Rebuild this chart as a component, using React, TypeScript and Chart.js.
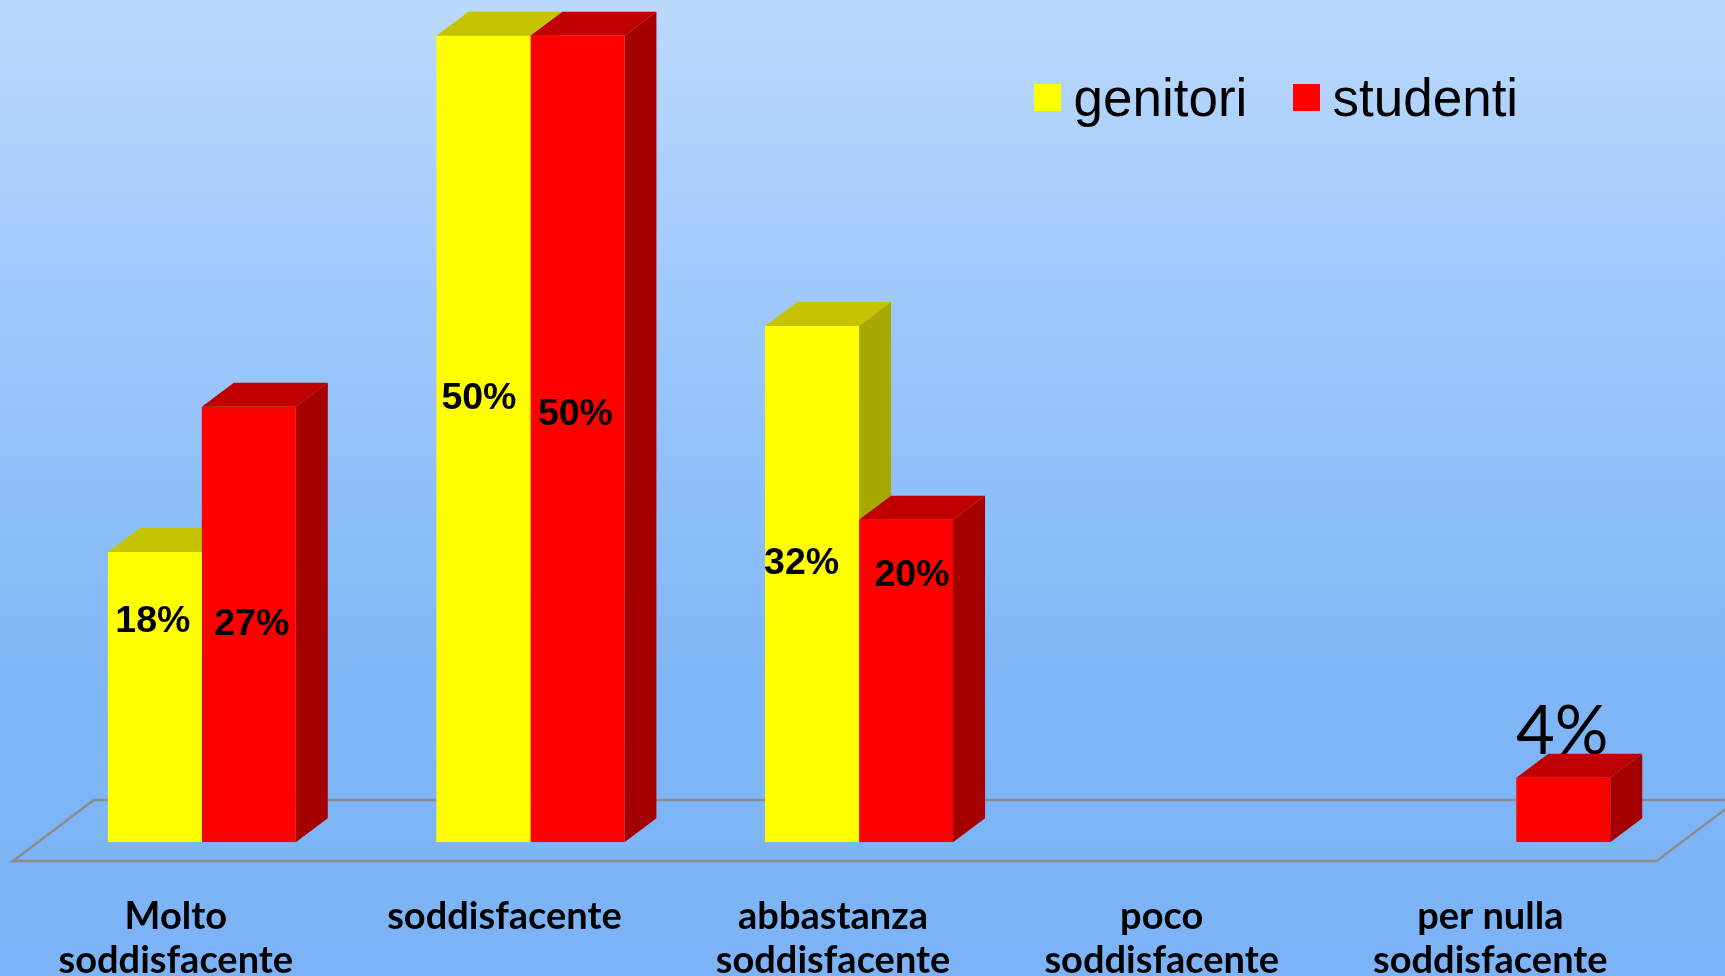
import React, { useEffect, useRef } from "react";
import { Chart, registerables } from "chart.js";

Chart.register(...registerables);

const categories = [
  ["Molto", "soddisfacente"],
  ["soddisfacente"],
  ["abbastanza", "soddisfacente"],
  ["poco", "soddisfacente"],
  ["per nulla", "soddisfacente"],
];
const genitori = [18, 50, 32, 0, 0];
const studenti = [27, 50, 20, 0, 4];

// Hand-placed label offsets (from each bar's centre), keyed by dataset then category
const labelOffsetsGenitori = [[-2, -75], [-4.5, -40], [-10.5, -21], null, null];
const labelOffsetsStudenti = [[3, 0], [-2, -24], [6, -105], null, [-1, -78]];
const labelOffsets = [labelOffsetsGenitori, labelOffsetsStudenti];

const faces = [
  { side: "#a8a800", top: "#c4c400" },
  { side: "#a50000", top: "#c00000" },
];
const DEPTH_X = 32;
const DEPTH_Y = 24;

const isSmallValue = (v: number) => v < 10;

function drawLabel(ctx: any, bar: any, value: number, off: number[]) {
  const cx = bar.x + off[0];
  const cy = (bar.y + bar.base) / 2 + off[1];
  ctx.save();
  ctx.fillStyle = "#000";
  ctx.textAlign = "center";
  ctx.textBaseline = "middle";
  ctx.font = isSmallValue(value) ? "400 67px Lato" : "700 37.5px 'Liberation Sans'";
  ctx.fillText(value + "%", cx, cy);
  ctx.restore();
}

const scenePlugin = {
  id: "scene",
  beforeDraw(chart: any) {
    const { ctx, width, height } = chart;
    const g = ctx.createLinearGradient(0, 0, 0, height);
    g.addColorStop(0, "#bbd9fc");
    g.addColorStop(0.3, "#9fc9fb");
    g.addColorStop(0.7, "#7fb6f7");
    g.addColorStop(1, "#7bb3f6");
    ctx.save();
    ctx.fillStyle = g;
    ctx.fillRect(0, 0, width, height);
    ctx.restore();
  },
  beforeDatasetsDraw(chart: any) {
    const { ctx, scales, chartArea } = chart;
    const y0 = scales.y.getPixelForValue(0);
    // floor
    ctx.save();
    ctx.strokeStyle = "#8c8c8c";
    ctx.lineWidth = 2.5;
    ctx.beginPath();
    ctx.moveTo(chartArea.left - 24.5, y0 + 18.7);
    ctx.lineTo(chartArea.right - 24, y0 + 18.7);
    ctx.lineTo(chartArea.right + 57, y0 - 42.3);
    ctx.lineTo(chartArea.left + 56.2, y0 - 42.3);
    ctx.closePath();
    ctx.stroke();
    ctx.restore();

    const metas = [chart.getDatasetMeta(0), chart.getDatasetMeta(1)];
    // labels that sit behind the 3D block
    metas.forEach((m, di) => {
      m.data.forEach((bar: any, i: number) => {
        const v = chart.data.datasets[di].data[i];
        const off = labelOffsets[di][i];
        if (v && off && isSmallValue(v)) drawLabel(ctx, bar, v, off);
      });
    });
    // side and top faces
    metas.forEach((m, di) => {
      m.data.forEach((bar: any, i: number) => {
        if (!chart.data.datasets[di].data[i]) return;
        const l = bar.x - bar.width / 2;
        const r = bar.x + bar.width / 2;
        ctx.save();
        ctx.fillStyle = faces[di].side;
        ctx.beginPath();
        ctx.moveTo(r, bar.y);
        ctx.lineTo(r + DEPTH_X, bar.y - DEPTH_Y);
        ctx.lineTo(r + DEPTH_X, bar.base - DEPTH_Y);
        ctx.lineTo(r, bar.base);
        ctx.closePath();
        ctx.fill();
        ctx.fillStyle = faces[di].top;
        ctx.beginPath();
        ctx.moveTo(l, bar.y);
        ctx.lineTo(l + DEPTH_X, bar.y - DEPTH_Y);
        ctx.lineTo(r + DEPTH_X, bar.y - DEPTH_Y);
        ctx.lineTo(r, bar.y);
        ctx.closePath();
        ctx.fill();
        ctx.restore();
      });
    });
  },
  afterDatasetsDraw(chart: any) {
    const { ctx } = chart;
    [0, 1].forEach((di) => {
      chart.getDatasetMeta(di).data.forEach((bar: any, i: number) => {
        const v = chart.data.datasets[di].data[i];
        const off = labelOffsets[di][i];
        if (v && off && !isSmallValue(v)) drawLabel(ctx, bar, v, off);
      });
    });
    // legend
    const xs = [1034, 1293];
    ctx.save();
    ctx.font = "400 53px 'Liberation Sans'";
    ctx.textBaseline = "alphabetic";
    ctx.textAlign = "left";
    chart.data.datasets.forEach((ds: any, di: number) => {
      ctx.fillStyle = ds.backgroundColor;
      ctx.fillRect(xs[di], 84, 27, 27);
      ctx.fillStyle = "#000";
      ctx.fillText(ds.label, xs[di] + 39.5, 116);
    });
    ctx.restore();
  },
};

export default function App() {
  const ref = useRef<HTMLCanvasElement>(null);
  useEffect(() => {
    const chart = new Chart(ref.current as HTMLCanvasElement, {
      type: "bar",
      data: {
        labels: categories as any,
        datasets: [
          { label: "genitori", data: genitori, backgroundColor: "#ffff00" },
          { label: "studenti", data: studenti, backgroundColor: "#ff0000" },
        ],
      },
      options: {
        responsive: false,
        animation: false,
        layout: { padding: { left: 37.5, right: 44.4, top: 35.7, bottom: 0 } },
        datasets: { bar: { categoryPercentage: 0.572, barPercentage: 1 } },
        plugins: { legend: { display: false }, title: { display: false }, tooltip: { enabled: false } },
        scales: {
          x: {
            grid: { display: false, drawTicks: false },
            border: { display: false },
            afterFit(scale: any) {
              scale.height = 133.7;
            },
            ticks: {
              color: "#000",
              font: { family: "Lato", weight: "bold", size: 38, lineHeight: 1.16 },
              padding: 52,
              labelOffset: -26,
              maxRotation: 0,
              minRotation: 0,
              autoSkip: false,
            },
          },
          y: { display: false, min: 0, max: 50 },
        },
      } as any,
      plugins: [scenePlugin],
    });
    return () => chart.destroy();
  }, []);
  return (
    <div style={{ position: "fixed", left: 0, top: 0, width: 1725, height: 976, overflow: "hidden" }}>
      <canvas ref={ref} width={1725} height={976} style={{ display: "block" }} />
    </div>
  );
}
